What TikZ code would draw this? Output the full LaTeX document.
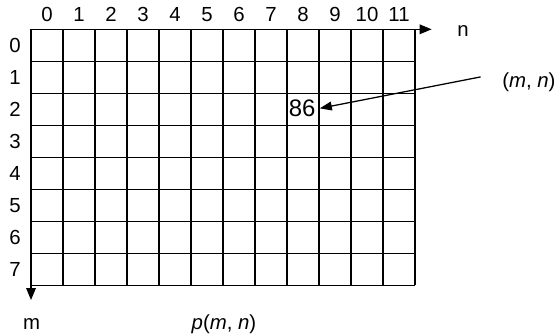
\documentclass[tikz,border=0pt]{standalone}
\usepackage{fontspec}
\setmainfont{Liberation Sans}
\usetikzlibrary{arrows.meta, positioning}

\begin{document}
\begin{tikzpicture}[
    x=0.8cm, y=0.8cm,
    gridline/.style={line width=1pt, draw=black},
    axisarrow/.style={line width=1pt, -{Triangle[length=3mm, width=2.4mm]}},
    ptrarrow/.style={line width=0.9pt, -{Triangle[length=3mm, width=2.2mm]}},
    lbl/.style={font=\fontsize{14.5}{17}\selectfont, inner sep=1pt},
    idx/.style={lbl, text height=10.4pt, text depth=0pt},
    val/.style={font=\fontsize{17}{20}\selectfont, inner xsep=3pt, inner ysep=1pt},
]
\useasboundingbox (-0.969,-1.553) rectangle (16.4375,8.916);

% 12 x 8 pixel grid, row 0 at the top
\draw[gridline, step=1] (0,0) grid (12,8);

% axes
\coordinate (orig) at (0,8);
\coordinate (nend) at (12.52,8);
\coordinate (mend) at (0,-0.46);
\draw[axisarrow] (orig) -- (nend);
\draw[axisarrow] (orig) -- (mend);

% column and row indices
\foreach \c in {0,...,11}
    \node[idx] (col\c) at (\c+0.5,8.48) {\c};
\foreach \r in {0,...,7}
    \node[idx] (row\r) at (-0.5,7.5-\r) {\r};

\node[lbl] (nlbl) at (13.5,7.95) {n};
\node[lbl] (mlbl) at (0.02,-1.21) {m};
\node[lbl] (plbl) at (6.03,-1.21) {\textit{p}(\textit{m}, \textit{n})};

% sample value p(2,8)
\node[val] (v86) at (8.47,5.53) {86};
\node[lbl] (mn) at (15.56,6.35) {(\textit{m}, \textit{n})};
\draw[ptrarrow] ([shift={(-0.5cm,0.13cm)}]mn.west) -- (v86.east);
\end{tikzpicture}
\end{document}
